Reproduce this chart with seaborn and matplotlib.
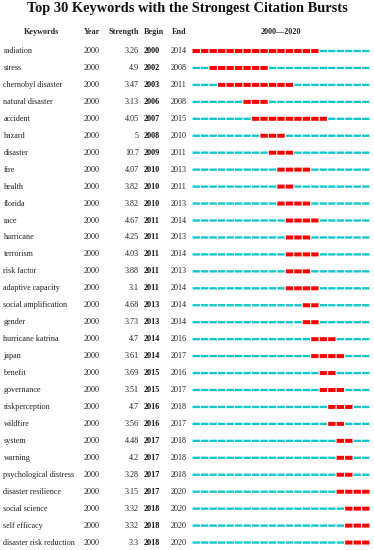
import numpy as np
import pandas as pd
import matplotlib
matplotlib.use("Agg")
import matplotlib.pyplot as plt
from matplotlib.path import Path
from matplotlib.transforms import blended_transform_factory
import seaborn as sns

# ---------------- data ----------------
keywords = ["radiation", "stress", "chernobyl disaster", "natural disaster", "accident",
            "hazard", "disaster", "fire", "health", "florida", "race", "hurricane",
            "terrorism", "risk factor", "adaptive capacity", "social amplification",
            "gender", "hurricane katrina", "japan", "benefit", "governance",
            "riskperception", "wildfire", "system", "warning", "psychological distress",
            "disaster resilience", "social science", "self efficacy", "disaster risk reduction"]
years = [2000, 2000, 2000, 2000, 2000, 2000, 2000, 2000, 2000, 2000,
         2000, 2000, 2000, 2000, 2000, 2000, 2000, 2000, 2000, 2000,
         2000, 2000, 2000, 2000, 2000, 2000, 2000, 2000, 2000, 2000]
strength = [3.26, 4.9, 3.47, 3.13, 4.05, 5, 10.7, 4.07, 3.82, 3.82,
            4.67, 4.25, 4.03, 3.88, 3.1, 4.68, 3.73, 4.7, 3.61, 3.69,
            3.51, 4.7, 3.56, 4.48, 4.2, 3.28, 3.15, 3.32, 3.32, 3.3]
begin = [2000, 2002, 2003, 2006, 2007, 2008, 2009, 2010, 2010, 2010,
         2011, 2011, 2011, 2011, 2011, 2013, 2013, 2014, 2014, 2015,
         2015, 2016, 2016, 2017, 2017, 2017, 2017, 2018, 2018, 2018]
end = [2014, 2008, 2011, 2008, 2015, 2010, 2011, 2013, 2011, 2013,
       2014, 2013, 2014, 2013, 2014, 2014, 2014, 2016, 2017, 2016,
       2017, 2018, 2017, 2018, 2018, 2018, 2020, 2020, 2020, 2020]
span_start, span_end = 2000, 2020
title = "Top 30 Keywords with the Strongest Citation Bursts"
headers = ["Keywords", "Year", "Strength", "Begin", "End"]

# long-form table of yearly segments
rows = []
for i, kw in enumerate(keywords):
    for yr in range(span_start, span_end + 1):
        state = "burst" if begin[i] <= yr <= end[i] else "none"
        rows.append({"row": i, "yearpos": yr + 0.5, "state": state})
df = pd.DataFrame(rows)

# ---------------- figure ----------------
sns.set_theme(style="white")
plt.rcParams["font.family"] = ["Liberation Serif", "DejaVu Serif"]

W, H = 374, 550
fig = plt.figure(figsize=(W / 100, H / 100), dpi=100)

n = len(keywords)
row0_px, row_step = 51.0, 16.95
top_px = row0_px - row_step / 2
bot_px = row0_px + row_step * (n - 0.5)
bx0, bx1 = 192, 370
ax = fig.add_axes([bx0 / W, 1 - bot_px / H, (bx1 - bx0) / W, (bot_px - top_px) / H])
ax.set_xlim(span_start, span_end + 1)
ax.set_ylim(n - 0.5, -0.5)
ax.axis("off")

def rect(h):
    return Path([(-1, -h), (1, -h), (1, h), (-1, h), (-1, -h)],
                [Path.MOVETO, Path.LINETO, Path.LINETO, Path.LINETO, Path.CLOSEPOLY])

sns.scatterplot(data=df, x="yearpos", y="row", hue="state", style="state",
                palette={"burst": "#FF0000", "none": "#12C8CC"},
                markers={"burst": rect(0.54), "none": rect(0.32)},
                s=28, linewidth=0, legend=False, ax=ax, clip_on=False, snap=False)

# ---------------- text ----------------
fs = 5.9
tr = blended_transform_factory(fig.transFigure, ax.transData)
fig.text(0.5, 1 - 8.5 / H, title, ha="center", va="center", fontsize=10.4,
         fontweight="bold", color="#111111")

hy = 1 - 32 / H
fig.text(41 / W, hy, headers[0], ha="center", va="center", fontsize=fs, fontweight="bold")
fig.text(92 / W, hy, headers[1], ha="center", va="center", fontsize=fs, fontweight="bold")
fig.text(139 / W, hy, headers[2], ha="right", va="center", fontsize=fs, fontweight="bold")
fig.text(144 / W, hy, headers[3], ha="left", va="center", fontsize=fs, fontweight="bold")
fig.text(179 / W, hy, headers[4], ha="center", va="center", fontsize=fs, fontweight="bold")
fig.text((bx0 + bx1) / 2 / W, hy, f"{span_start}\u2014{span_end}", ha="center",
         va="center", fontsize=fs, fontweight="bold")

for i in range(n):
    ax.text(3.5 / W, i, keywords[i], transform=tr, ha="left", va="center", fontsize=fs, color="#222222")
    ax.text(92 / W, i, str(years[i]), transform=tr, ha="center", va="center", fontsize=fs, color="#222222")
    ax.text(139 / W, i, f"{strength[i]:g}", transform=tr, ha="right", va="center", fontsize=fs, color="#222222")
    ax.text(144 / W, i, str(begin[i]), transform=tr, ha="left", va="center", fontsize=fs,
            fontweight="bold", color="#111111")
    ax.text(179 / W, i, str(end[i]), transform=tr, ha="center", va="center", fontsize=fs, color="#222222")

fig.savefig("out.png", dpi=100, facecolor="white")
